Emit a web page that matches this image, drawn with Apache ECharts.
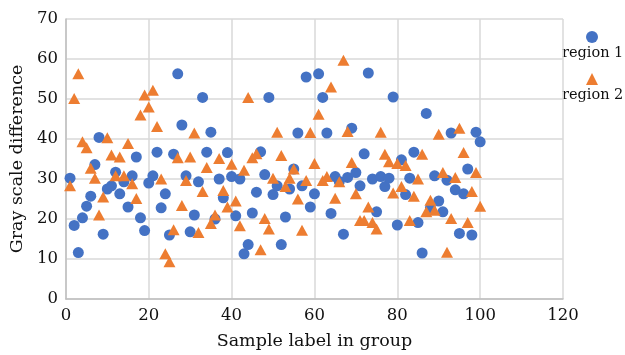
<!DOCTYPE html>
<html>
<head>
<meta charset="utf-8">
<script src="https://cdn.jsdelivr.net/npm/echarts@6/dist/echarts.min.js"></script>
<style>
  html, body { margin: 0; padding: 0; background: #fff; }
  #chart { width: 625px; height: 355px; }
</style>
</head>
<body>
<div id="chart"></div>
<script>
const seriesNames = ['region 1', 'region 2']

// gray scale difference per sample (samples 1..100)
const region1 = [
    30.2, 18.4, 11.6, 20.3, 23.2, 25.7, 33.6, 40.4, 16.2, 27.5,
    28.3, 31.7, 26.3, 29.3, 23.0, 30.8, 35.5, 20.3, 17.1, 29.0,
    30.8, 36.7, 22.8, 26.3, 16.0, 36.2, 56.3, 43.5, 30.8, 16.8,
    21.0, 29.3, 50.4, 36.7, 41.7, 20.0, 30.0, 25.3, 36.6, 30.6,
    20.8, 30.0, 11.3, 13.6, 21.5, 26.7, 36.8, 31.1, 50.4, 26.1,
    28.3, 13.6, 20.5, 27.5, 32.5, 41.5, 28.3, 55.5, 23.0, 26.3,
    56.3, 50.4, 41.5, 21.4, 30.6, 29.4, 16.2, 30.4, 42.7, 31.6,
    28.3, 36.3, 56.5, 30.0, 21.8, 30.6, 28.1, 30.2, 50.5, 18.5,
    34.8, 26.1, 30.2, 36.7, 19.1, 11.5, 46.4, 22.8, 30.8, 24.5,
    21.8, 29.7, 41.5, 27.3, 16.4, 26.3, 32.5, 16.0, 41.7, 39.3
]
const region2 = [
    28.3, 50.1, 56.3, 39.3, 37.8, 32.7, 30.2, 21.0, 25.5, 40.3,
    36.0, 30.8, 35.5, 30.8, 38.9, 28.8, 25.1, 46.0, 51.0, 48.0,
    52.2, 43.1, 30.0, 11.3, 9.3, 17.3, 35.3, 23.4, 29.6, 35.5,
    41.5, 16.6, 26.9, 32.9, 18.9, 21.0, 35.1, 27.1, 23.0, 33.7,
    24.5, 18.3, 32.2, 50.4, 35.3, 36.3, 12.3, 20.1, 17.5, 30.2,
    41.7, 35.9, 28.1, 30.2, 32.5, 25.0, 17.2, 29.6, 41.6, 33.9,
    46.2, 29.6, 30.6, 53.0, 25.2, 29.3, 59.7, 41.9, 34.1, 26.3,
    19.6, 19.6, 23.0, 19.1, 17.5, 41.7, 36.2, 34.3, 26.5, 33.9,
    28.1, 33.4, 19.6, 25.7, 30.0, 36.2, 21.8, 24.7, 22.2, 41.2,
    31.6, 11.7, 20.1, 30.4, 42.7, 36.6, 19.1, 26.9, 31.6, 23.2
]

const xTicks = [0, 20, 40, 60, 80, 100, 120]
const yTicks = [0, 10, 20, 30, 40, 50, 60, 70]

const FONT = '"DejaVu Serif", "Liberation Serif", serif'
const COLORS = ['#4472c4', '#ed7d31']
const GRID = '#d9d9d9'

// sample label = position in group
const withLabel = (vals) => vals.map((v, i) => [i + 1, v])

const chart = echarts.init(document.getElementById('chart'), null, { renderer: 'canvas' })

chart.setOption({
    animation: false,
    color: COLORS,
    grid: { left: 62, right: 62, top: 19, bottom: 52, containLabel: false },
    xAxis: {
        type: 'value',
        min: xTicks[0],
        max: xTicks[xTicks.length - 1],
        interval: 20,
        name: 'Sample label in group',
        nameLocation: 'middle',
        nameGap: 33,
        nameTextStyle: { fontFamily: FONT, fontSize: 17.5, color: '#111' },
        axisLine: { show: true, lineStyle: { color: '#bfbfbf', width: 1.5 } },
        axisTick: { show: false },
        axisLabel: { fontFamily: FONT, fontSize: 16.5, color: '#111', margin: 8 },
        splitLine: { show: true, lineStyle: { color: GRID, width: 1.5 } },
    },
    yAxis: {
        type: 'value',
        min: yTicks[0],
        max: yTicks[yTicks.length - 1],
        interval: 10,
        name: 'Gray scale difference',
        nameLocation: 'middle',
        nameGap: 37,
        nameTextStyle: { fontFamily: FONT, fontSize: 17.5, color: '#111' },
        axisLine: { show: true, lineStyle: { color: '#bfbfbf', width: 1.5 } },
        axisTick: { show: false },
        axisLabel: { fontFamily: FONT, fontSize: 16.5, color: '#111', margin: 8 },
        splitLine: { show: true, lineStyle: { color: GRID, width: 1.5 } },
    },
    legend: {
        orient: 'vertical',
        left: 581,
        top: 26,
        itemWidth: 12,
        itemHeight: 12,
        itemGap: 30,
        selectedMode: false,
        data: seriesNames,
        formatter: () => '',
    },
    graphic: [
        { type: 'text', left: 562, top: 46, style: { text: seriesNames[0], font: '14.5px ' + FONT, fill: '#111' } },
        { type: 'text', left: 562, top: 88, style: { text: seriesNames[1], font: '14.5px ' + FONT, fill: '#111' } },
    ],
    series: [
        {
            name: seriesNames[0],
            type: 'scatter',
            symbol: 'circle',
            symbolSize: 11,
            data: withLabel(region1),
            itemStyle: { opacity: 1 },
        },
        {
            name: seriesNames[1],
            type: 'scatter',
            symbol: 'triangle',
            symbolSize: [12, 11],
            data: withLabel(region2),
            itemStyle: { opacity: 1 },
        },
    ],
})
</script>
</body>
</html>
